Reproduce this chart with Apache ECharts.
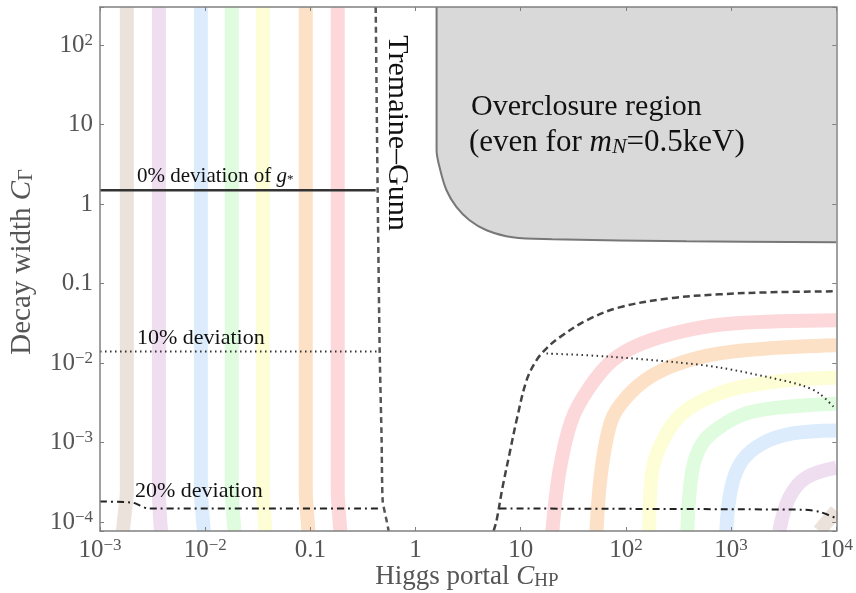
<!DOCTYPE html>
<html><head><meta charset="utf-8">
<script src="https://cdn.jsdelivr.net/npm/echarts@6/dist/echarts.min.js"></script>
<style>html,body{margin:0;padding:0;background:#fff}#c{width:856px;height:593px}</style>
</head><body><div id="c"></div>
<script>
const FONT = '"Liberation Serif", "Times New Roman", serif';
const X_MIN = 1e-3, X_MAX = 1e4;
const Y_MIN = 7.71e-5, Y_MAX = 300.6;

// tick labels
const xTickExp = [-3, -2, -1, 0, 1, 2, 3, 4];
const xTickText = ['{b|10}{s|\u22123}', '{b|10}{s|\u22122}', '{b|0.1}', '{b|1}', '{b|10}', '{b|10}{s|2}', '{b|10}{s|3}', '{b|10}{s|4}'];
const yTickExp = [-4, -3, -2, -1, 0, 1, 2];
const yTickText = ['{b|10}{s|\u22124}', '{b|10}{s|\u22123}', '{b|10}{s|\u22122}', '{b|0.1}', '{b|1}', '{b|10}', '{b|10}{s|2}'];

// colours of the pale bands (brown ... pink)
const bandColors = ['#ece2dc', '#efddf0', '#dcecfd', '#dffcdf', '#fefed6', '#fde1c6', '#fdd8da'];

// left vertical bands: x per band at the y levels in leftBandY
const leftBandY = [Y_MAX, 2.5e-4, 1.3e-4, Y_MIN];
const leftBandX = [
  [0.0018, 0.0018, 0.00172, 0.00165],
  [0.00363, 0.00363, 0.0037, 0.0038],
  [0.0091, 0.0091, 0.0094, 0.0097],
  [0.0179, 0.0179, 0.0184, 0.019],
  [0.0353, 0.0353, 0.0364, 0.0375],
  [0.0904, 0.0904, 0.093, 0.096],
  [0.182, 0.182, 0.187, 0.193]
];

// right curved bands (same colour order: brown ... pink)
const rightBandX = [
  [6880, 10000],
  [2870, 3573, 5176, 10000],
  [900, 1005, 1277, 1977, 3811, 10000],
  [384, 428, 532, 773, 1393, 2870, 10000],
  [167, 178.6, 232, 344, 621, 1197, 3342, 10000],
  [52.5, 58.5, 72.8, 101, 167, 322, 773, 2307, 10000],
  [20.0, 23.4, 30.4, 45, 74.5, 143.5, 376, 1120, 10000]
];
const rightBandY = [
  [Y_MIN, 1.39e-4],
  [Y_MIN, 2.03e-4, 3.62e-4, 4.84e-4],
  [Y_MIN, 2.71e-4, 5.93e-4, 9.7e-4, 1.3e-3, 1.42e-3],
  [Y_MIN, 4.44e-4, 9.7e-4, 1.55e-3, 2.32e-3, 2.76e-3, 3.1e-3],
  [Y_MIN, 4.44e-4, 1.156e-3, 2.32e-3, 3.69e-3, 4.93e-3, 6.04e-3, 6.59e-3],
  [Y_MIN, 4.44e-4, 1.89e-3, 3.69e-3, 6.59e-3, 9.9e-3, 0.0132, 0.0153, 0.0167],
  [Y_MIN, 4.44e-4, 1.89e-3, 4.93e-3, 0.0108, 0.0177, 0.0258, 0.0316, 0.0344]
];

// overclosure region boundary
const overX = [1.585, 1.585, 1.693, 1.97, 2.455, 3.26, 4.73, 8.36, 20, 376, 10000];
const overY = [Y_MAX, 4.77, 2.9, 1.49, 0.912, 0.625, 0.468, 0.382, 0.361, 0.34, 0.33];

// Tremaine-Gunn bound
const tgX = [0.418, 0.436, 0.456, 0.476, 0.487, 0.531, 0.555];
const tgY = [Y_MAX, 1.5, 0.0144, 1.06e-3, 1.86e-4, 1.04e-4, Y_MIN];

// right dashed curve
const dashX = [5.52, 5.89, 6.71, 7.83, 9.12, 11.36, 14.1, 17.6, 23.4, 42.2, 86.7, 259, 773, 2307, 10000];
const dashY = [Y_MIN, 1.04e-4, 2.71e-4, 7.26e-4, 1.89e-3, 6.04e-3, 0.0108, 0.0153, 0.021, 0.0344, 0.0501, 0.0652, 0.0731, 0.0775, 0.0798];

// 0% deviation (solid)
const dev0X = [X_MIN, 0.418];
const dev0Y = [1.49, 1.49];
// 10% deviation (dotted)
const dev10LX = [X_MIN, 0.46];
const dev10LY = [0.014, 0.014];
const dev10RX = [17.6, 65.3, 302, 773, 2307, 4744, 6880, 9780];
const dev10RY = [0.0132, 0.0121, 0.0102, 8.8e-3, 6.59e-3, 5.22e-3, 4.14e-3, 2.68e-3];
// 20% deviation (dash-dot)
const dev20LX = [X_MIN, 2.06e-3, 2.86e-3, 0.456];
const dev20LY = [1.81e-4, 1.75e-4, 1.48e-4, 1.48e-4];
const dev20RX = [6.3, 4744, 6880, 9780];
const dev20RY = [1.48e-4, 1.43e-4, 1.35e-4, 1.13e-4];

function zip(xs, ys) { return xs.map((x, i) => [x, ys[i]]); }

function fmt(exps, texts) {
  return function (v) {
    const e = Math.log10(v);
    const r = Math.round(e);
    if (Math.abs(e - r) > 1e-6) return '';
    const i = exps.indexOf(r);
    return i < 0 ? '' : texts[i];
  };
}
const labelRich = {
  b: { fontFamily: FONT, fontSize: 25, color: '#555', lineHeight: 26 },
  s: { fontFamily: FONT, fontSize: 17, color: '#555', lineHeight: 14, verticalAlign: 'top' }
};
const AX = '#808080';
function axisCommon(extra) {
  return Object.assign({
    type: 'log', logBase: 10, z: 10,
    splitLine: { show: false },
    axisLine: { show: true, lineStyle: { color: AX, width: 1.5 } },
    axisTick: { show: true, inside: true, length: 4, lineStyle: { color: AX, width: 1 } },
    minorTick: { show: false }
  }, extra);
}

const series = [];
// overclosure
series.push({
  type: 'line', data: zip(overX, overY), symbol: 'none', smooth: 0.35,
  lineStyle: { color: '#777', width: 2 },
  areaStyle: { color: '#d9d9d9', opacity: 1, origin: 'end' },
  z: 1, silent: true
});
// bands
bandColors.forEach((c, k) => {
  series.push({
    type: 'line', data: zip(leftBandX[k], leftBandY), symbol: 'none', smooth: 0.3,
    lineStyle: { color: c, width: 14, cap: 'butt' }, z: 2, silent: true
  });
  series.push({
    type: 'line', data: zip(rightBandX[k], rightBandY[k]), symbol: 'none', smooth: 0.35,
    lineStyle: { color: c, width: 14, cap: 'butt' }, z: 2, silent: true
  });
});
function blackLine(xs, ys, type, width, color, smooth) {
  series.push({
    type: 'line', data: zip(xs, ys), symbol: 'none', smooth: smooth || 0,
    lineStyle: { color: color, width: width, type: type }, z: 3, silent: true
  });
}
blackLine(tgX, tgY, [6, 4], 2.5, '#555', 0.2);
blackLine(dashX, dashY, [7, 4], 2.5, '#444', 0.35);
blackLine(dev0X, dev0Y, 'solid', 2.5, '#333');
blackLine(dev10LX, dev10LY, [1.5, 3.5], 2, '#333');
blackLine(dev10RX, dev10RY, [1.5, 3.5], 2, '#333', 0.3);
blackLine(dev20LX, dev20LY, [7, 4, 2, 4], 2, '#222', 0.2);
blackLine(dev20RX, dev20RY, [7, 4, 2, 4], 2, '#222', 0.2);

const textBlack = '#111';
const titleRich = {
  i: { fontFamily: FONT, fontSize: 29, fontStyle: 'italic', color: '#555' },
  g: { fontFamily: FONT, fontSize: 20, color: '#555', verticalAlign: 'bottom', lineHeight: 22 }
};
const option = {
  animation: false,
  backgroundColor: '#fff',
  grid: { left: 100, right: 19, top: 7, bottom: 62, containLabel: false },
  xAxis: [
    axisCommon({ position: 'bottom', min: X_MIN, max: X_MAX,
      axisLabel: { formatter: fmt(xTickExp, xTickText), rich: labelRich, margin: 6 } }),
    axisCommon({ position: 'top', min: X_MIN, max: X_MAX, axisLabel: { show: false } })
  ],
  yAxis: [
    axisCommon({ position: 'left', min: Y_MIN, max: Y_MAX,
      axisLabel: { formatter: fmt(yTickExp, yTickText), rich: labelRich, margin: 7 } }),
    axisCommon({ position: 'right', min: Y_MIN, max: Y_MAX, axisLabel: { show: false } })
  ],
  series: series,
  graphic: [
    // white margins hide the thick pale bands where they would poke past the frame
    { type: 'rect', z: 5, silent: true, shape: { x: 838, y: 0, width: 18, height: 593 }, style: { fill: '#fff' } },
    { type: 'rect', z: 5, silent: true, shape: { x: 0, y: 532, width: 856, height: 61 }, style: { fill: '#fff' } },
    { type: 'text', x: 22, y: 262, rotation: Math.PI / 2, z: 20,
      style: { text: 'Decay width {i|C}{g|\u0393}', fill: '#555', font: '29px ' + FONT,
        align: 'center', verticalAlign: 'middle', rich: titleRich } },
    { type: 'text', x: 467, y: 577, z: 20,
      style: { text: 'Higgs portal {i|C}{g|HP}', fill: '#555', font: '27px ' + FONT,
        align: 'center', verticalAlign: 'middle',
        rich: { i: { fontFamily: FONT, fontSize: 27, fontStyle: 'italic', color: '#555' },
                g: { fontFamily: FONT, fontSize: 19, color: '#555', verticalAlign: 'bottom', lineHeight: 21 } } } },
    { type: 'text', x: 397, y: 133, rotation: -Math.PI / 2, z: 20,
      style: { text: 'Tremaine\u2013Gunn', fill: textBlack, font: '30px ' + FONT, align: 'center', verticalAlign: 'middle' } },
    { type: 'text', x: 471, y: 107, z: 20,
      style: { text: 'Overclosure region', fill: textBlack, font: '30px ' + FONT, align: 'left', verticalAlign: 'middle' } },
    { type: 'text', x: 469, y: 143, z: 20,
      style: { text: '(even for {i|m}{sub|N}=0.5keV)', fill: textBlack, font: '31px ' + FONT, align: 'left', verticalAlign: 'middle',
        rich: { i: { fontFamily: FONT, fontSize: 31, fontStyle: 'italic', color: textBlack },
                sub: { fontFamily: FONT, fontSize: 22, fontStyle: 'italic', color: textBlack, verticalAlign: 'bottom', lineHeight: 26 } } } },
    { type: 'text', x: 137, y: 176, z: 20,
      style: { text: '0% deviation of {i|g}{sub|*}', fill: textBlack, font: '21px ' + FONT, align: 'left', verticalAlign: 'middle',
        rich: { i: { fontFamily: FONT, fontSize: 21, fontStyle: 'italic', color: textBlack },
                sub: { fontFamily: FONT, fontSize: 13, color: textBlack, verticalAlign: 'bottom', lineHeight: 16 } } } },
    { type: 'text', x: 137, y: 338, z: 20,
      style: { text: '10% deviation', fill: textBlack, font: '22px ' + FONT, align: 'left', verticalAlign: 'middle' } },
    { type: 'text', x: 135, y: 491, z: 20,
      style: { text: '20% deviation', fill: textBlack, font: '22px ' + FONT, align: 'left', verticalAlign: 'middle' } }
  ]
};
const chart = echarts.init(document.getElementById('c'), null, { renderer: 'canvas' });
chart.setOption(option);
</script>
</body></html>
